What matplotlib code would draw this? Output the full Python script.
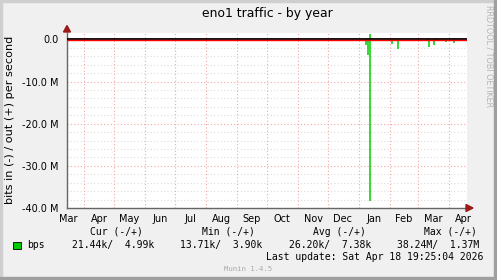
import matplotlib
matplotlib.use('Agg')
import matplotlib.pyplot as plt
from matplotlib.patches import Rectangle, Polygon
import numpy as np
from datetime import datetime

# time window (munin "by year" = 400 days)
t_start = datetime(2025, 3, 14, 19, 25)
t_end = datetime(2026, 4, 18, 19, 25)

# spikes in traffic (bits/s); in is negative, out positive
spike_dates = ['2026-01-08', '2026-01-10', '2026-01-12', '2026-02-03', '2026-02-09',
               '2026-03-11', '2026-03-12', '2026-03-17', '2026-03-19', '2026-03-29',
               '2026-04-06']
spike_in = [-1.3e6, -3.7e6, -38.24e6, -1.1e6, -2.3e6, -0.4e6, -1.9e6, -1.3e6,
            -0.3e6, -0.5e6, -0.8e6]
spike_out = [0, 0, 1.37e6, 0, 0, 0, 0, 0, 0, 0, 0]

month_starts = ['2025-04-01', '2025-05-01', '2025-06-01', '2025-07-01', '2025-08-01',
                '2025-09-01', '2025-10-01', '2025-11-01', '2025-12-01', '2026-01-01',
                '2026-02-01', '2026-03-01', '2026-04-01']
month_labels = ['Mar', 'Apr', 'May', 'Jun', 'Jul', 'Aug', 'Sep', 'Oct', 'Nov', 'Dec',
                'Jan', 'Feb', 'Mar', 'Apr']
label_days = ['2025-03-16', '2025-04-16', '2025-05-16', '2025-06-16', '2025-07-16',
              '2025-08-16', '2025-09-16', '2025-10-16', '2025-11-16', '2025-12-16',
              '2026-01-16', '2026-02-15', '2026-03-16', '2026-04-15']

ytick_vals = [0, -10e6, -20e6, -30e6, -40e6]
ytick_labels = ['0.0', '-10.0 M', '-20.0 M', '-30.0 M', '-40.0 M']

legend_cols = ['Cur (-/+)', 'Min (-/+)', 'Avg (-/+)', 'Max (-/+)']
legend_vals = ['21.44k/  4.99k', '13.71k/  3.90k', '26.20k/  7.38k', '38.24M/  1.37M']

W, H = 497, 280
fig = plt.figure(figsize=(W / 100, H / 100), dpi=100)
fig.patch.set_facecolor('#F0F0F0')

# frame shading
fig.patches.append(Rectangle((0, 0), 2 / W, 1, transform=fig.transFigure, color='#CFCFCF', zorder=0))
fig.patches.append(Rectangle((0, 1 - 2 / H), 1, 2 / H, transform=fig.transFigure, color='#CFCFCF', zorder=0))
fig.patches.append(Rectangle((1 - 3 / W, 0), 3 / W, 1, transform=fig.transFigure, color='#9F9F9F', zorder=0))
fig.patches.append(Rectangle((0, 0), 1, 3 / H, transform=fig.transFigure, color='#9F9F9F', zorder=0))

left, right, top, bottom = 67, 466.7, 33, 208
ax = fig.add_axes([left / W, 1 - bottom / H, (right - left) / W, (bottom - top) / H])
ax.set_facecolor('white')

ax.set_xlim(t_start, t_end)
ax.set_ylim(-40e6, 1.54e6)

mstarts = [datetime.fromisoformat(d) for d in month_starts]
ldays = [datetime.fromisoformat(d) for d in label_days]
ax.set_xticks(ldays)
ax.set_xticklabels(month_labels)
ax.set_yticks(ytick_vals)
ax.set_yticklabels(ytick_labels)

ax.tick_params(axis='both', which='both', length=0, labelsize=7, colors='black')
ax.tick_params(axis='x', pad=4)
ax.tick_params(axis='y', pad=6)

ax.grid(False)
for yv in np.arange(-38e6, 1, 2e6):
    if yv % 10e6 != 0:
        ax.axhline(yv, color='#DDDDDD', lw=0.8, ls=(0, (1, 2)), zorder=1)
for yv in [-10e6, -20e6, -30e6]:
    ax.axhline(yv, color='#F2A8A8', lw=0.8, ls=(0, (1, 2)), zorder=1)
for m in mstarts:
    ax.axvline(m, color='#F2A8A8', lw=0.8, ls=(0, (1, 2)), zorder=1)

for s in ['top', 'right']:
    ax.spines[s].set_visible(False)
for s in ['left', 'bottom']:
    ax.spines[s].set_color('#666666')
    ax.spines[s].set_linewidth(1)

sd = [datetime.fromisoformat(d) for d in spike_dates]
ax.vlines(sd, spike_in, 0, color='#00CC00', lw=1.1, zorder=3)
ax.vlines(sd, 0, spike_out, color='#00CC00', lw=1.1, zorder=3)

ax.axhline(0.15e6, color='black', lw=1.3, zorder=4)
ax.axhline(-0.1e6, color='#FF0000', lw=1.0, zorder=4)

# axis arrows
fig.patches.append(Polygon([(63.5 / W, 1 - 32 / H), (70.5 / W, 1 - 32 / H), (67 / W, 1 - 25.5 / H)],
                           closed=True, transform=fig.transFigure, color='#9B1A1A', zorder=5))
fig.add_artist(plt.Line2D([right / W, 468 / W], [1 - bottom / H] * 2, color='#666666', lw=1,
                          transform=fig.transFigure))
fig.patches.append(Polygon([(466 / W, 1 - 204.5 / H), (466 / W, 1 - 211.5 / H), (473 / W, 1 - 208 / H)],
                           closed=True, transform=fig.transFigure, color='#9B1A1A', zorder=5))

# texts
fig.text(267 / W, 1 - 13 / H, 'eno1 traffic - by year', ha='center', va='center', fontsize=8.9)
fig.text(10 / W, 1 - 119.5 / H, 'bits in (-) / out (+) per second', rotation=90,
         ha='center', va='center', fontsize=8.1)
fig.text(489 / W, 1 - 5 / H, 'RRDTOOL / TOBI OETIKER', rotation=270, ha='center', va='top',
         fontsize=5.8, color='#B4B4B4')

mono = 'DejaVu Sans Mono'
col_x = [90, 202, 313, 424]
val_x = [72.5, 180, 289, 397]
for cx, t in zip(col_x, legend_cols):
    fig.text(cx / W, 1 - 232 / H, t, ha='left', va='center', fontsize=7, family=mono)
for vx, t in zip(val_x, legend_vals):
    fig.text(vx / W, 1 - 245 / H, t, ha='left', va='center', fontsize=7, family=mono)
fig.patches.append(Rectangle((13 / W, 1 - 249 / H), 8 / W, 7.5 / H, transform=fig.transFigure,
                             facecolor='#00CC00', edgecolor='black', lw=0.6, zorder=5))
fig.text(27 / W, 1 - 245 / H, 'bps', ha='left', va='center', fontsize=7, family=mono)
fig.text(483 / W, 1 - 257 / H, 'Last update: Sat Apr 18 19:25:04 2026', ha='right', va='center',
         fontsize=7, family=mono)
fig.text(248.5 / W, 1 - 269 / H, 'Munin 1.4.5', ha='center', va='center', fontsize=5.2,
         family=mono, color='#AAAAAA')

fig.savefig('out.png', dpi=100, facecolor=fig.get_facecolor())
